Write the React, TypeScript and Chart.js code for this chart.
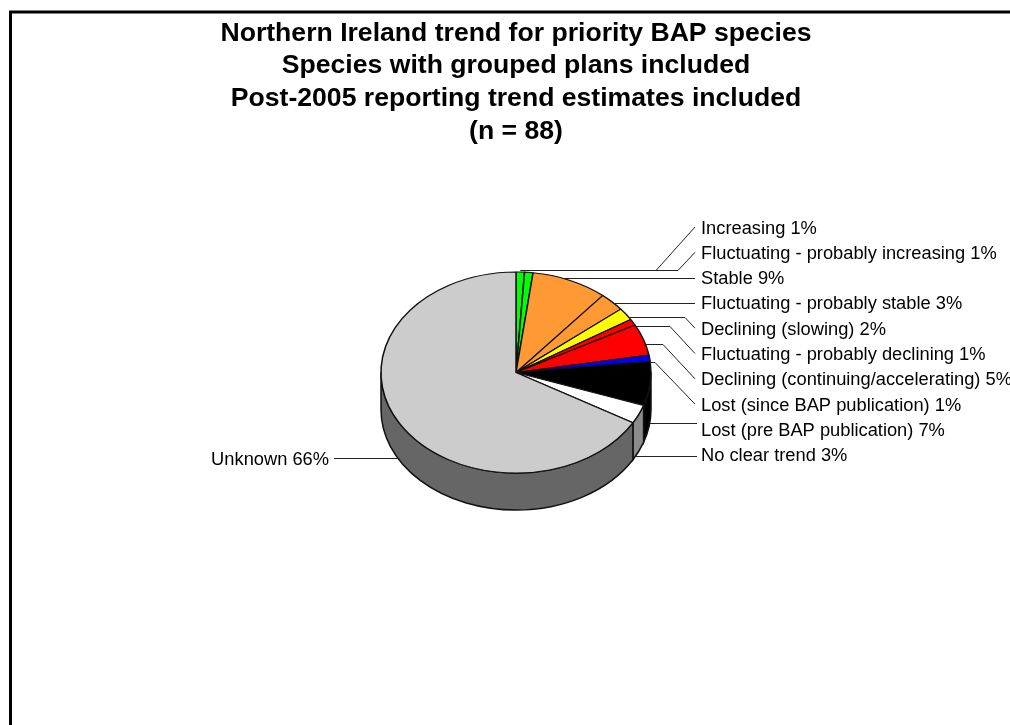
import React, { useEffect, useRef } from "react";
import { Chart, registerables } from "chart.js";

Chart.register(...registerables);

const titleLines = [
  "Northern Ireland trend for priority BAP species",
  "Species with grouped plans included",
  "Post-2005 reporting trend estimates included",
  "(n = 88)",
];

const categories = [
  "Increasing",
  "Fluctuating - probably increasing",
  "Stable",
  "Fluctuating - probably stable",
  "Declining (slowing)",
  "Fluctuating - probably declining",
  "Declining (continuing/accelerating)",
  "Lost (since BAP publication)",
  "Lost (pre BAP publication)",
  "No clear trend",
  "Unknown",
];

const percentages = [1, 1, 9, 3, 2, 1, 5, 1, 7, 3, 66];

const sliceColors = [
  "#00ff00",
  "#00ff00",
  "#ff9933",
  "#ff9933",
  "#ffff00",
  "#ff0000",
  "#ff0000",
  "#0000ff",
  "#000000",
  "#ffffff",
  "#cccccc",
];

// Horizontal run and elbow of each leader line, in slice order.
const leaderLevels = [270, 270, 278, 303, 317, 326, 344, 362, 423, 456, 458];
const leaderElbows = [656, 678, 695, 695, 685, 670, 663, 655, 697, 697, 334];

const PIE_RADIUS = 135;
const TILT = 0.745;
const DEPTH = 37;
const LABEL_X = 701;
const LABEL_NUDGE_Y = 1.5;
const LEADER_END_X = 695;
const FIRST_ROW_Y = 227;
const ROW_STEP = 25.3;

const labelFont = "18.3px 'Liberation Sans', Arial, sans-serif";

const darken = (hex: string) => {
  const n = parseInt(hex.slice(1), 16);
  const shade = hex === "#ffffff" ? 0.55 : 0.5;
  const c = [(n >> 16) & 255, (n >> 8) & 255, n & 255].map((v) => Math.round(v * shade));
  return `rgb(${c[0]},${c[1]},${c[2]})`;
};

// Extrudes the pie downward, tilts the flat arcs into an ellipse, and adds the callouts.
const tiltedPie = {
  id: "tiltedPie",
  beforeDraw(chart: any) {
    const { ctx } = chart;
    ctx.save();
    ctx.strokeStyle = "#000";
    ctx.lineWidth = 3;
    ctx.beginPath();
    ctx.moveTo(10.5, 740);
    ctx.lineTo(10.5, 12);
    ctx.lineTo(1020, 12);
    ctx.stroke();
    ctx.restore();
  },
  beforeDatasetsDraw(chart: any) {
    const { ctx } = chart;
    const arcs = chart.getDatasetMeta(0).data;
    const { x: cx, y: cy } = arcs[0];
    const ry = PIE_RADIUS * TILT;
    arcs.forEach((arc: any, i: number) => {
      const a0 = Math.max(arc.startAngle, 0);
      const a1 = Math.min(arc.endAngle, Math.PI);
      if (a1 <= a0) return;
      ctx.beginPath();
      ctx.ellipse(cx, cy, PIE_RADIUS, ry, 0, a0, a1);
      ctx.ellipse(cx, cy + DEPTH, PIE_RADIUS, ry, 0, a1, a0, true);
      ctx.closePath();
      ctx.fillStyle = darken(sliceColors[i]);
      ctx.fill();
      ctx.strokeStyle = "#111";
      ctx.lineWidth = 1.5;
      ctx.stroke();
    });
    ctx.save();
    ctx.translate(cx, cy);
    ctx.scale(1, TILT);
    ctx.translate(-cx, -cy);
  },
  afterDatasetsDraw(chart: any) {
    const { ctx } = chart;
    ctx.restore();
    const arcs = chart.getDatasetMeta(0).data;
    const { x: cx, y: cy } = arcs[0];
    const ry = PIE_RADIUS * TILT;
    ctx.save();
    ctx.font = labelFont;
    ctx.fillStyle = "#000";
    ctx.strokeStyle = "#222";
    ctx.lineWidth = 1;
    ctx.textBaseline = "middle";
    arcs.forEach((arc: any, i: number) => {
      const mid = (arc.startAngle + arc.endAngle) / 2;
      const level = leaderLevels[i];
      // Slices on the near half attach their leader to the side wall.
      const dy = level - cy - (Math.sin(mid) > 0 ? DEPTH : 0);
      const side = Math.cos(mid) >= 0 ? 1 : -1;
      const startX =
        Math.abs(dy) < ry
          ? cx + side * PIE_RADIUS * Math.sqrt(1 - (dy / ry) ** 2)
          : cx + PIE_RADIUS * Math.cos(mid);
      const text = `${categories[i]} ${percentages[i]}%`;
      ctx.beginPath();
      ctx.moveTo(startX, level + 0.5);
      ctx.lineTo(leaderElbows[i], level + 0.5);
      if (side > 0) {
        const rowY = FIRST_ROW_Y + i * ROW_STEP;
        if (leaderElbows[i] < LEADER_END_X) ctx.lineTo(LEADER_END_X, rowY);
        ctx.stroke();
        ctx.textAlign = "left";
        ctx.fillText(text, LABEL_X, rowY + LABEL_NUDGE_Y);
      } else {
        ctx.stroke();
        ctx.textAlign = "right";
        ctx.fillText(text, leaderElbows[i] - 5, level + LABEL_NUDGE_Y);
      }
    });
    ctx.restore();
  },
};

export default function App() {
  const canvasRef = useRef<HTMLCanvasElement>(null);

  useEffect(() => {
    const chart = new Chart(canvasRef.current!, {
      type: "pie",
      data: {
        labels: categories,
        datasets: [
          {
            data: percentages,
            backgroundColor: sliceColors,
            borderColor: "#111",
            borderWidth: 1.5,
            clip: false,
          } as any,
        ],
      },
      options: {
        animation: false,
        responsive: false,
        radius: PIE_RADIUS,
        layout: { padding: { left: 22, right: 0, top: 0, bottom: 127.8 } },
        plugins: {
          legend: { display: false },
          tooltip: { enabled: false },
          title: {
            display: true,
            text: titleLines,
            color: "#000",
            font: { family: "'Liberation Sans', Arial, sans-serif", size: 26.6, weight: "bold", lineHeight: 1.23 },
            padding: { top: 17, bottom: 0 },
          },
        },
      } as any,
      plugins: [tiltedPie],
    });
    return () => chart.destroy();
  }, []);

  return (
    <div style={{ position: "fixed", left: 0, top: 0, width: 1010, height: 725, overflow: "hidden", background: "#fff" }}>
      <canvas ref={canvasRef} width={1010} height={725} style={{ display: "block" }} />
    </div>
  );
}
